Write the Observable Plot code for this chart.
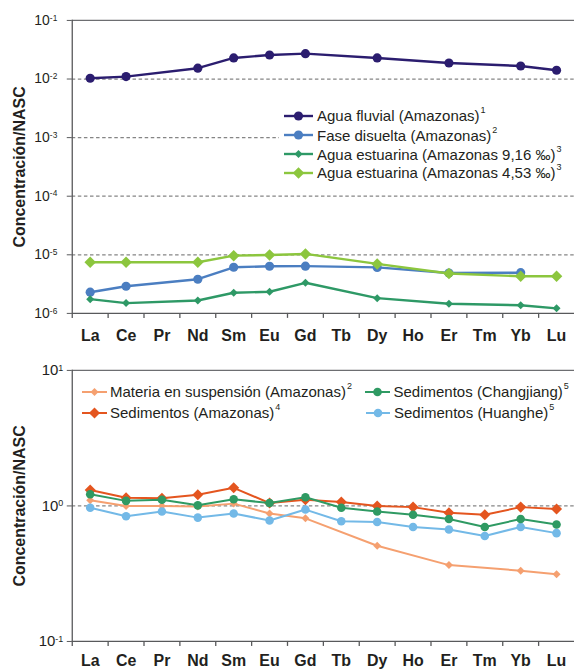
<!DOCTYPE html>
<html><head><meta charset="utf-8">
<script src="https://cdn.jsdelivr.net/npm/d3@7"></script>
<script src="https://cdn.jsdelivr.net/npm/@observablehq/plot@0.6"></script>
<style>
body{margin:0;background:#fff;font-family:Arial,"Liberation Sans",sans-serif;}
#wrap{position:relative;width:574px;height:670px;overflow:hidden;background:#fff;}
.panel{position:absolute;left:0;}
.row{position:absolute;display:flex;align-items:center;white-space:nowrap;font-size:15px;color:#231f20;height:20px;}
.row svg{flex:none;}
.row sup{font-size:9px;vertical-align:8px;line-height:0;margin-left:1px;}
.cover{position:absolute;background:#fff;}
</style>
</head><body>
<div id="wrap"></div>
<script>
const cats = ["La","Ce","Pr","Nd","Sm","Eu","Gd","Tb","Dy","Ho","Er","Tm","Yb","Lu"];

// top panel series
const aguaFluvial  = [0.0103, 0.0110, null, 0.0153, 0.0229, 0.0257, 0.0271, null, 0.0229, null, 0.0188, null, 0.0167, 0.0141];
const faseDisuelta = [2.30e-6, 2.91e-6, null, 3.83e-6, 6.13e-6, 6.37e-6, 6.4e-6, null, 6.1e-6, null, 4.9e-6, null, 4.95e-6, null];
const estuarina916 = [1.75e-6, 1.50e-6, null, 1.66e-6, 2.25e-6, 2.34e-6, 3.33e-6, null, 1.82e-6, null, 1.46e-6, null, 1.38e-6, 1.22e-6];
const estuarina453 = [7.46e-6, 7.46e-6, null, 7.46e-6, 9.68e-6, 9.9e-6, 1.035e-5, null, 7.0e-6, null, 4.79e-6, null, 4.31e-6, 4.31e-6];

// bottom panel series
const materia     = [1.10, 1.00, 1.00, 0.99, 1.04, 0.88, 0.81, null, 0.508, null, 0.366, null, 0.333, 0.313];
const sedAmazonas = [1.31, 1.15, 1.14, 1.21, 1.36, 1.05, 1.11, 1.07, 1.00, 0.98, 0.89, 0.86, 0.98, 0.95];
const changjiang  = [1.22, 1.09, 1.11, 1.01, 1.12, 1.05, 1.16, 0.97, 0.91, 0.86, 0.80, 0.70, 0.80, 0.73];
const huanghe     = [0.97, 0.84, 0.91, 0.82, 0.88, 0.78, 0.94, 0.77, 0.76, 0.70, 0.67, 0.60, 0.70, 0.63];

const topTicks = [1e-6, 1e-5, 1e-4, 1e-3, 1e-2, 1e-1];
const topGrid = [1e-5, 1e-4, 1e-3, 1e-2];
const botTicks = [0.1, 1, 10];
const botGrid = [1];

const topSeries = [
  {name:"Agua fluvial (Amazonas)", sup:"1", values:aguaFluvial, color:"#2b1d6f", symbol:"circle", r:4.6, sw:2.4},
  {name:"Fase disuelta (Amazonas)", sup:"2", values:faseDisuelta, color:"#4b7ec1", symbol:"circle", r:4.6, sw:2.4},
  {name:"Agua estuarina (Amazonas 9,16 \u2030)", sup:"3", values:estuarina916, color:"#2e9966", symbol:"diamond2", r:3.6, sw:2.4},
  {name:"Agua estuarina (Amazonas 4,53 \u2030)", sup:"3", values:estuarina453, color:"#8cc63e", symbol:"diamond2", r:5.2, sw:2.4}
];
const botSeries = [
  {name:"Materia en suspensión (Amazonas)", sup:"2", values:materia, color:"#f5a070", symbol:"diamond2", r:3.6, sw:2},
  {name:"Sedimentos (Amazonas)", sup:"4", values:sedAmazonas, color:"#e4551f", symbol:"diamond2", r:5, sw:2},
  {name:"Sedimentos (Huanghe)", sup:"5", values:huanghe, color:"#73b9e7", symbol:"circle", r:4.3, sw:2},
  {name:"Sedimentos (Changjiang)", sup:"5", values:changjiang, color:"#2f9a63", symbol:"circle", r:4.3, sw:2}
];

function toRows(series){
  const rows = [];
  series.forEach(s => s.values.forEach((v,i) => { if (v != null) rows.push({series:s.name, el:cats[i], v}); }));
  return rows;
}

function superscriptTicks(svg){
  svg.querySelectorAll('g[aria-label="y-axis tick label"] text').forEach(t => {
    const [b, e] = t.textContent.split("|");
    t.textContent = "";
    const ns = "http://www.w3.org/2000/svg";
    const t1 = document.createElementNS(ns, "tspan"); t1.textContent = b; t.appendChild(t1);
    const t2 = document.createElementNS(ns, "tspan"); t2.textContent = e;
    t2.setAttribute("dy", "-0.5em"); t2.setAttribute("font-size", "0.6em"); t.appendChild(t2);
  });
}

function panel({series, domain, ticks, grid, height, marginTop, marginBottom, labelPad, yFont, yPad}){
  const marks = [
    Plot.ruleY(grid, {stroke:"#858585", strokeWidth:1.3, strokeDasharray:"3.5,2.6"}),
    Plot.ruleY([domain[1]], {stroke:"#6d6e71", strokeWidth:1.3}),
    Plot.ruleY([domain[0]], {stroke:"#58595b", strokeWidth:1.3}),
    Plot.frame({anchor:"left", stroke:"#58595b", strokeWidth:1.3}),
    Plot.axisX({tickSize:5, tickFormat:() => "", dx:-18, label:null, stroke:"#58595b", strokeWidth:1.3}),
    Plot.axisX({tickSize:0, tickPadding:labelPad, fontSize:16, fontWeight:"bold", label:null, fill:"#231f20"}),
    Plot.axisY({ticks, tickSize:5, tickPadding:yPad, fontSize:yFont, label:null, fill:"#231f20", stroke:"#58595b",
      tickFormat: d => "10|" + String(Math.round(Math.log10(d))).replace("\u2212","-")}),
    Plot.axisY({ticks:[], label:"Concentración/NASC", labelAnchor:"center", labelArrow:"none", labelOffset:59,
      fontSize:16, fontWeight:"bold", fill:"#231f20"})
  ];
  series.forEach(s => {
    const rows = toRows([s]);
    marks.push(Plot.line(rows, {x:"el", y:"v", stroke:s.color, strokeWidth:s.sw}));
    marks.push(Plot.dot(rows, {x:"el", y:"v", fill:s.color, symbol:s.symbol, r:s.r, stroke:null}));
  });
  const svg = Plot.plot({
    width:576, height, marginLeft:72, marginRight:0, marginTop, marginBottom,
    style:{fontFamily:'Arial, "Liberation Sans", sans-serif', background:"transparent", overflow:"visible"},
    x:{type:"band", domain:cats, padding:0, axis:null},
    y:{type:"log", domain, axis:null},
    marks
  });
  superscriptTicks(svg);
  return svg;
}

const wrap = document.getElementById("wrap");

const top1 = panel({series:topSeries, domain:[1e-6, 1e-1], ticks:topTicks, grid:topGrid, height:345, marginTop:20, marginBottom:31, labelPad:16, yFont:14, yPad:10});
const d1 = document.createElement("div"); d1.className = "panel"; d1.style.top = "0px"; d1.appendChild(top1); wrap.appendChild(d1);

const bot = panel({series:botSeries, domain:[0.1, 10], ticks:botTicks, grid:botGrid, height:325, marginTop:25, marginBottom:28, labelPad:13, yFont:15, yPad:4});
const d2 = document.createElement("div"); d2.className = "panel"; d2.style.top = "345px"; d2.appendChild(bot); wrap.appendChild(d2);

// legend cover (hides the grid line behind the legend, as in the original)
const cover = document.createElement("div"); cover.className = "cover";
Object.assign(cover.style, {left:"279px", top:"98px", width:"300px", height:"86px"});
wrap.appendChild(cover);

function legendRow(s, cy, x0, x1, textX){
  const row = document.createElement("div"); row.className = "row";
  row.style.left = x0 + "px"; row.style.top = (cy - 10) + "px";
  const w = x1 - x0, m = w / 2;
  let marker;
  if (s.symbol === "circle") marker = `<circle cx="${m}" cy="10" r="${s.r}" fill="${s.color}"/>`;
  else { const t = s.r * 1.11; marker = `<polygon points="${m},${10-t} ${m+t},10 ${m},${10+t} ${m-t},10" fill="${s.color}"/>`; }
  row.innerHTML = `<svg width="${w}" height="20"><line x1="0" x2="${w}" y1="10" y2="10" stroke="${s.color}" stroke-width="${s.sw}"/>${marker}</svg>` +
    `<span style="margin-left:${textX - x1}px">${s.name}<sup>${s.sup}</sup></span>`;
  wrap.appendChild(row);
}
legendRow(topSeries[0], 115.7, 284, 313, 317);
legendRow(topSeries[1], 135, 284, 313, 317);
legendRow(topSeries[2], 154, 284, 313, 317);
legendRow(topSeries[3], 172.5, 284, 313, 317);

legendRow(botSeries[0], 391.7, 82, 107, 110);
legendRow(botSeries[1], 412.7, 82, 107, 110);
legendRow(botSeries[3], 391.7, 365, 390, 393.5);
legendRow(botSeries[2], 412.7, 366, 390, 394);
</script>
</body></html>
